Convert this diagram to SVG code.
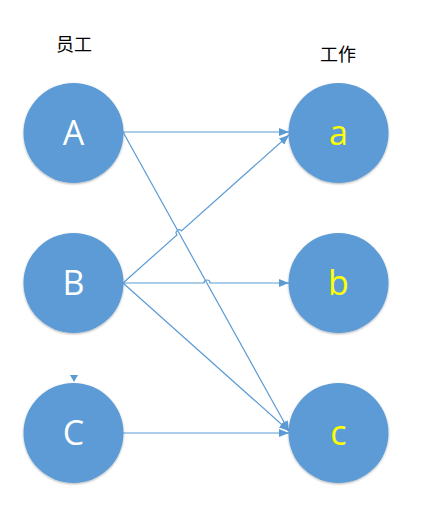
<svg xmlns="http://www.w3.org/2000/svg" width="424" height="523" viewBox="0 0 424 523">
<style>
.node{fill:#5B9BD5;filter:url(#sh)}
.lbl{font-family:"Open Sans","Liberation Sans",sans-serif;font-size:34px;text-anchor:middle}
.up{fill:#FFFFFF}
.lo{fill:#FFFF00}
.cap{font-family:"Liberation Sans","Noto Sans CJK SC",sans-serif;font-size:18px;text-anchor:middle;fill:#000}
.ln{fill:none;stroke:#5B9BD5;stroke-width:1.2;marker-end:url(#ar)}
</style>
<defs>
<filter id="sh" x="-20%" y="-20%" width="140%" height="140%">
<feDropShadow dx="0" dy="1" stdDeviation="1.2" flood-color="#000" flood-opacity="0.3"/>
</filter>
<marker id="ar" viewBox="0 0 10 8" refX="10" refY="4" markerWidth="10" markerHeight="8" markerUnits="userSpaceOnUse" orient="auto">
<path d="M0,0 L10,4 L0,8 z" fill="#5B9BD5"/>
</marker>
</defs>
<text class="cap" x="74" y="51">员工</text>
<text class="cap" x="338" y="61">工作</text>
<g id="connectors">
<path class="ln" d="M123,132 L289,132"/>
<path class="ln" d="M123,132 L289,431"/>
<path class="ln" d="M123,283 L176.96,234.9 A3,3 0 0 1 181.44,230.9 L289,135"/>
<path class="ln" d="M123,283 L204,283 A3,3 0 0 1 210,283 L289,283"/>
<path class="ln" d="M123,283 L289,431"/>
<path class="ln" d="M123,433 L289,433"/>
<path d="M70,375 L78,375 L74,382 z" fill="#5B9BD5"/>
</g>
<g id="A"><circle class="node" cx="73.5" cy="133" r="50"/><text class="lbl up" x="73.5" y="145">A</text></g>
<g id="B"><circle class="node" cx="73.5" cy="283" r="50"/><text class="lbl up" x="73.5" y="295">B</text></g>
<g id="C"><circle class="node" cx="73.5" cy="433" r="50"/><text class="lbl up" x="73.5" y="445">C</text></g>
<g id="a"><circle class="node" cx="338.5" cy="133" r="50"/><text class="lbl lo" x="338.5" y="145">a</text></g>
<g id="b"><circle class="node" cx="338.5" cy="283" r="50"/><text class="lbl lo" x="338.5" y="295">b</text></g>
<g id="c"><circle class="node" cx="338.5" cy="433" r="50"/><text class="lbl lo" x="338.5" y="445">c</text></g>
</svg>
